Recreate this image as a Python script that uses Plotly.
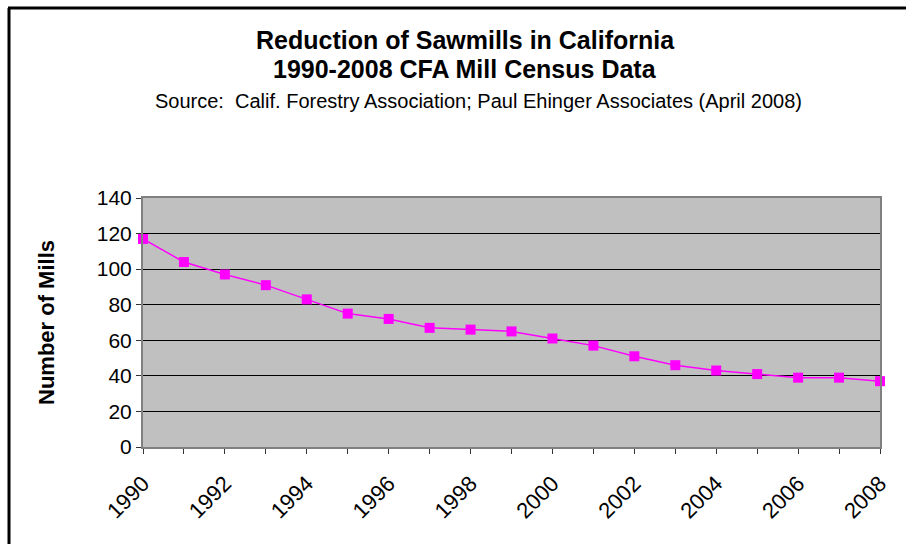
import plotly.graph_objects as go

# Mill census counts, 1990-2008
years = list(range(1990, 2009))
mills = [117, 104, 97, 91, 83, 75, 72, 67, 66, 65, 61, 57, 51, 46, 43, 41, 39, 39, 37]
year_ticks = list(range(1990, 2009, 2))
mill_ticks = list(range(0, 141, 20))

W, H = 906, 544
L, R, T, B = 143, 26, 198, 97
pw, ph = W - L - R, H - T - B

def px_x(x):
    return (x - L) / pw

def px_y(y):
    return (H - B - y) / ph

fig = go.Figure()
fig.add_trace(go.Scatter(
    x=years, y=mills, mode="lines+markers",
    line=dict(color="#FF00FF", width=1.5),
    marker=dict(symbol="square", size=10, color="#FF00FF"),
    cliponaxis=False, showlegend=False,
))

fig.update_layout(
    width=W, height=H,
    margin=dict(l=L, r=R, t=T, b=B),
    paper_bgcolor="white",
    plot_bgcolor="#C0C0C0",
    font=dict(family="Arial, Liberation Sans, sans-serif", color="black"),
    xaxis=dict(
        range=[1990, 2008], tickmode="array", tickvals=year_ticks,
        ticktext=[str(y) for y in year_ticks], tickangle=-45,
        tickfont=dict(size=22), ticks="outside", ticklen=5, tickcolor="#333",
        ticklabelstandoff=8,
        minor=dict(ticks="outside", ticklen=5, dtick=1, tickcolor="#333", showgrid=False),
        showgrid=False, showline=True, linecolor="#808080", linewidth=2,
        mirror=True, zeroline=False,
    ),
    yaxis=dict(
        range=[0, 140], tickvals=mill_ticks, tickfont=dict(size=21),
        ticks="outside", ticklen=5, tickcolor="#333",
        showgrid=True, gridcolor="black", gridwidth=1,
        showline=True, linecolor="#808080", linewidth=2, mirror=True,
        zeroline=False,
        title=dict(text="<b>Number of Mills</b>", font=dict(size=22), standoff=36),
    ),
)

fig.add_annotation(
    x=px_x(465), y=px_y(40), xref="paper", yref="paper", showarrow=False,
    xanchor="center", yanchor="middle",
    text="<b>Reduction of Sawmills in California</b>", font=dict(size=25),
)
fig.add_annotation(
    x=px_x(465), y=px_y(69), xref="paper", yref="paper", showarrow=False,
    xanchor="center", yanchor="middle",
    text="<b>1990-2008 CFA Mill Census Data</b>", font=dict(size=25),
)
fig.add_annotation(
    x=px_x(478), y=px_y(101), xref="paper", yref="paper", showarrow=False,
    xanchor="center", yanchor="middle",
    text="Source:  Calif. Forestry Association; Paul Ehinger Associates (April 2008)",
    font=dict(size=20),
)

# Outer chart frame (left and top edges)
fig.add_shape(type="line", xref="paper", yref="paper",
              x0=px_x(9), x1=px_x(9), y0=px_y(560), y1=px_y(8),
              line=dict(color="black", width=3))
fig.add_shape(type="line", xref="paper", yref="paper",
              x0=px_x(8), x1=px_x(920), y0=px_y(8), y1=px_y(8),
              line=dict(color="black", width=3))

fig.write_html("out.html")
